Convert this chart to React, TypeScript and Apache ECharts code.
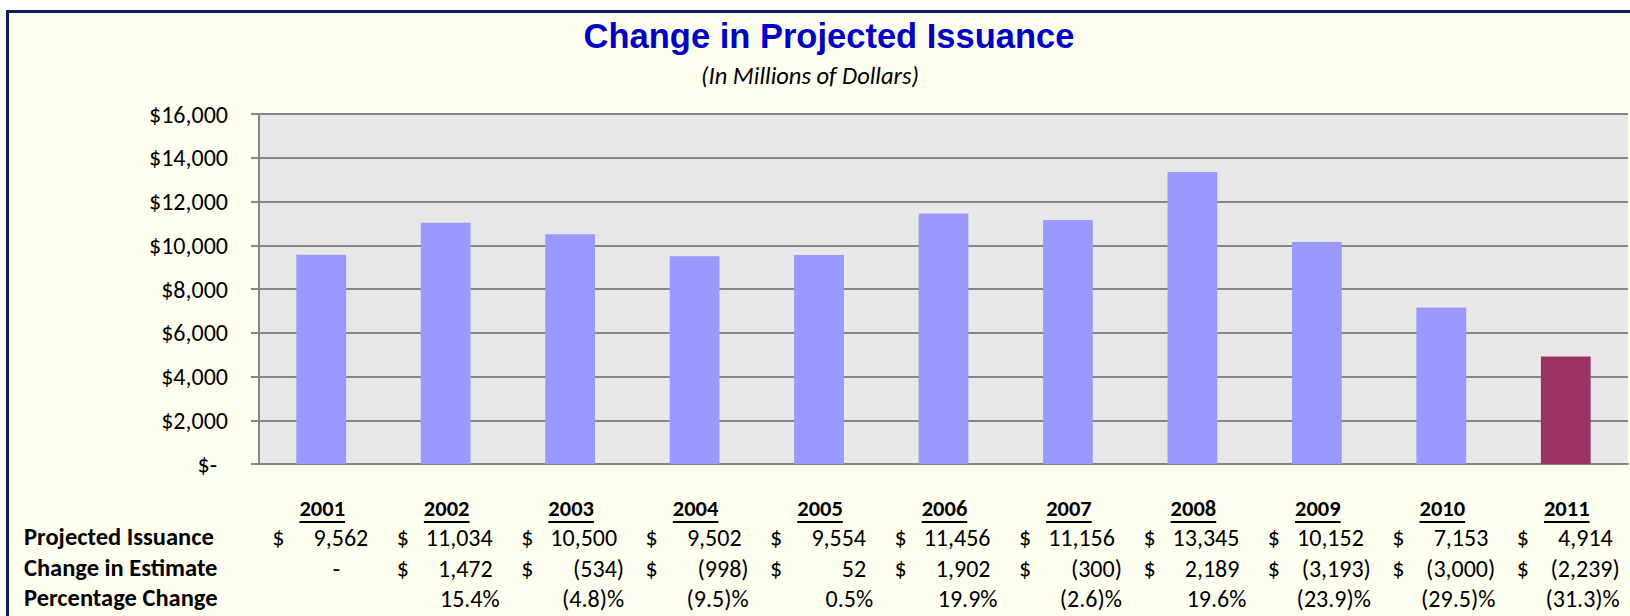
import React, { useEffect, useRef } from 'react';
import * as echarts from 'echarts';

const titleText = 'Change in Projected Issuance';
const subtitleText = '(In Millions of Dollars)';
const years = ['2001', '2002', '2003', '2004', '2005', '2006', '2007', '2008', '2009', '2010', '2011'];
const issuance = [9562, 11034, 10500, 9502, 9554, 11456, 11156, 13345, 10152, 7153, 4914];
const changeInEstimate = [0, 1472, -534, -998, 52, 1902, -300, 2189, -3193, -3000, -2239];
const percentageChange: (number | null)[] = [null, 15.4, -4.8, -9.5, 0.5, 19.9, -2.6, 19.6, -23.9, -29.5, -31.3];
const rowLabels = ['Projected Issuance', 'Change in Estimate', 'Percentage Change'];
const highlightYear = '2011';
const yMin = 0;
const yMax = 16000;
const yInterval = 2000;

const FONT = 'Carlito, Calibri, Lato, sans-serif';
const TITLE_FONT = '"Liberation Sans", Arial, sans-serif';

function fmtMoney(v: number): string {
  if (v === 0) return '-';
  const s = Math.abs(v).toLocaleString('en-US');
  return v < 0 ? '(' + s + ')' : s;
}
function fmtPct(v: number | null): string {
  if (v === null) return '';
  const s = Math.abs(v).toFixed(1);
  return v < 0 ? '(' + s + ')%' : s + '%';
}

export default function App() {
  const ref = useRef<HTMLDivElement>(null);
  useEffect(() => {
    document.body.style.margin = '0';
    const canvas = document.createElement('canvas');
    const ctx = canvas.getContext('2d')!;
    const measure = (text: string, size: number, family: string, weight = 'normal', style = 'normal') => {
      ctx.font = style + ' ' + weight + ' ' + size + 'px ' + family;
      return ctx.measureText(text).width;
    };
    // choose font sizes so that sample texts span the widths seen in the reference
    const fit = (sample: string, target: number, family: string, weight = 'normal', style = 'normal') =>
      Math.round((100 * target) / measure(sample, 100, family, weight, style) * 2) / 2;
    const fsAxis = fit('$16,000', 79, FONT);
    const fsRow = fit('Projected Issuance', 189, FONT, 'bold');
    const fsNum = fit('11,034', 67, FONT);
    const fsYear = fit('2001', 46, FONT, 'bold');
    const fsSub = fit(subtitleText, 220, FONT, 'normal', 'italic');
    const fsTitle = fit(titleText, 488, TITLE_FONT, 'bold');

    const chart = echarts.init(ref.current!, null, { renderer: 'svg' });
    const gridColor = '#868686';
    chart.setOption({
      animation: false,
      backgroundColor: 'transparent',
      grid: {
        left: 259, top: 114, right: 2, bottom: 152,
        show: true, backgroundColor: '#e8e8e8', borderWidth: 0,
      },
      xAxis: {
        type: 'category',
        data: years,
        axisLine: { show: true, lineStyle: { color: gridColor, width: 2 } },
        axisTick: { show: false },
        axisLabel: { show: false },
      },
      yAxis: {
        type: 'value',
        min: yMin, max: yMax, interval: yInterval,
        axisLine: { show: true, lineStyle: { color: gridColor, width: 2 } },
        axisTick: { show: true, length: 8, lineStyle: { color: gridColor, width: 2 } },
        splitLine: { show: true, lineStyle: { color: gridColor, width: 2 } },
        axisLabel: {
          margin: 31,
          color: '#000',
          fontFamily: FONT,
          fontSize: fsAxis,
          formatter: (v: number) => (v === 0 ? '{z|$-}' : '$' + v.toLocaleString('en-US')),
          rich: { z: { fontFamily: FONT, fontSize: fsAxis, color: '#000', padding: [0, 11, 0, 0] } },
        },
      },
      series: [{
        type: 'bar',
        barWidth: '40%',
        data: issuance.map((v, i) => ({
          value: v,
          itemStyle: { color: years[i] === highlightYear ? '#993366' : '#9999ff' },
        })),
      }],
    });

    const txt = (text: string, x: number, y: number, align: string, opts: any = {}) => ({
      type: 'text',
      x, y,
      silent: true,
      style: {
        text,
        fill: opts.fill || '#000',
        fontFamily: opts.fontFamily || FONT,
        fontSize: opts.fontSize || fsNum,
        fontWeight: opts.fontWeight || 'normal',
        fontStyle: opts.fontStyle || 'normal',
        align, textAlign: align,
        verticalAlign: 'middle', textVerticalAlign: 'middle',
      },
    });

    const els: any[] = [];
    els.push(txt(titleText, 829, 36, 'center', { fill: '#0000cc', fontFamily: TITLE_FONT, fontSize: fsTitle, fontWeight: 'bold' }));
    els.push(txt(subtitleText, 810, 76, 'center', { fontStyle: 'italic', fontSize: fsSub }));

    const rowY = [537, 568, 598];
    const headerY = 508;
    const underlineY = 522;
    rowLabels.forEach((l, r) => els.push(txt(l, 24, rowY[r], 'left', { fontWeight: 'bold', fontSize: fsRow })));

    years.forEach((yr, i) => {
      const c = chart.convertToPixel({ xAxisIndex: 0 }, i) as number;
      const w = measure(yr, fsYear, FONT, 'bold');
      els.push(txt(yr, c + 1, headerY, 'center', { fontWeight: 'bold', fontSize: fsYear }));
      els.push({
        type: 'line', silent: true,
        shape: { x1: c + 1 - w / 2, y1: underlineY, x2: c + 1 + w / 2, y2: underlineY },
        style: { stroke: '#000', lineWidth: 2 },
      });
      els.push(txt('$', c - 49, rowY[0], 'left'));
      els.push(txt(fmtMoney(issuance[i]), c + 47, rowY[0], 'right'));
      const ch = changeInEstimate[i];
      if (i === 0) {
        els.push(txt(fmtMoney(ch), c + 19, rowY[1], 'right'));
      } else {
        els.push(txt('$', c - 49, rowY[1], 'left'));
        els.push(txt(fmtMoney(ch), ch < 0 ? c + 54 : c + 47, rowY[1], 'right'));
      }
      const p = percentageChange[i];
      if (p !== null) els.push(txt(fmtPct(p), c + 54, rowY[2], 'right'));
    });

    chart.setOption({ graphic: { elements: els } });
    return () => chart.dispose();
  }, []);

  return (
    <div style={{ position: 'relative', width: 1630, height: 616, overflow: 'hidden', background: '#ffffff' }}>
      <div style={{
        position: 'absolute', left: 6, top: 10, width: 1700, height: 700,
        border: '3px solid #0c1f5c', background: '#fffff0', boxSizing: 'border-box',
      }} />
      <div ref={ref} style={{ position: 'absolute', left: 0, top: 0, width: 1630, height: 616 }} />
    </div>
  );
}
